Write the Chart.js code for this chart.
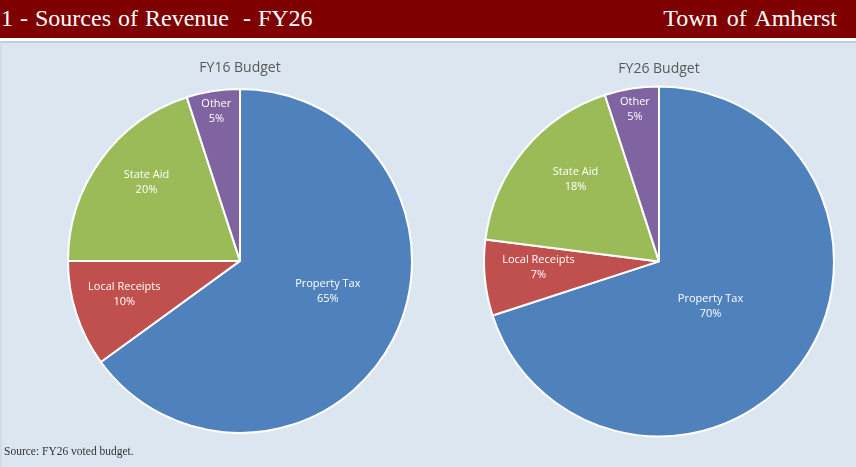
<!DOCTYPE html>
<html>
<head>
<meta charset="utf-8">
<script src="https://cdn.jsdelivr.net/npm/chart.js@4/dist/chart.umd.min.js"></script>
<style>
	html, body { margin: 0; padding: 0; }
	body { width: 856px; height: 467px; position: relative; overflow: hidden; background: #ffffff; }
	#header {
		position: absolute; left: 0; top: 0; width: 856px; height: 38px;
		background: #7f0000; color: #ffffff;
		font-family: "Liberation Serif", "DejaVu Serif", serif; font-size: 24px;
	}
	#header .left { position: absolute; left: 1px; top: 5px; white-space: pre; word-spacing: 1px; }
	#header .right { position: absolute; right: 19px; top: 5px; word-spacing: 3px; }
	#panel {
		position: absolute; left: 0; top: 41px; width: 854px; height: 426px;
		background: #dce6f0; border-top: 2px solid #bccde0; border-left: 2px solid #cfdbe8;
	}
	.pie { position: absolute; top: 0; width: 428px; height: 419px; }
	#source {
		position: absolute; left: 4px; top: 445px;
		font-family: "Liberation Serif", "DejaVu Serif", serif; font-size: 11.5px; color: #333333;
	}
</style>
</head>
<body>
<div id="header"><span class="left">1 - Sources of Revenue  - FY26</span><span class="right">Town of Amherst</span></div>
<div id="panel">
	<div class="pie" style="left:-2px"><canvas id="chart16"></canvas></div>
	<div class="pie" style="left:426px"><canvas id="chart26"></canvas></div>
</div>
<div id="source">Source: FY26 voted budget.</div>
<script>
// DATA
const categories = ["Property Tax", "Local Receipts", "State Aid", "Other"];
const fy16_values = [65, 10, 20, 5];
const fy26_values = [70, 7, 18, 5];
const slice_colors = ["#4f81bd", "#c0504d", "#9bbb59", "#8064a2"];

// label placement: fraction of the radius, and a turn (degrees) off the slice middle
const fy16_label_radius = [0.54, 0.70, 0.71, 0.88];
const fy16_label_turn = [-8, 2, 4, 0];
const fy26_label_radius = [0.39, 0.69, 0.67, 0.88];
const fy26_label_turn = [5, 2.5, 5, 0];

const label_font = '11px "Open Sans", "Noto Sans", sans-serif';

const slice_labels = {
	id: "slice_labels",
	afterDatasetsDraw(chart, args, opts) {
		const ctx = chart.ctx;
		const values = chart.data.datasets[0].data;
		const arcs = chart.getDatasetMeta(0).data;
		ctx.save();
		ctx.font = label_font;
		ctx.fillStyle = "#ffffff";
		ctx.textAlign = "center";
		ctx.textBaseline = "middle";
		arcs.forEach((arc, i) => {
			const p = arc.getProps(["x", "y", "startAngle", "endAngle", "outerRadius"], true);
			const mid = (p.startAngle + p.endAngle) / 2 + opts.turn[i] * Math.PI / 180;
			const r = p.outerRadius * opts.radius[i];
			const x = p.x + Math.cos(mid) * r;
			const y = p.y + Math.sin(mid) * r;
			ctx.fillText(chart.data.labels[i], x, y - 7.5);
			ctx.fillText(values[i] + "%", x, y + 7.5);
		});
		ctx.restore();
	}
};

function make_pie(id, title, values, label_radius, label_turn, padding, title_padding) {
	return new Chart(document.getElementById(id), {
		type: "pie",
		data: {
			labels: categories,
			datasets: [{
				data: values,
				backgroundColor: slice_colors,
				borderColor: "#ffffff",
				borderWidth: 2
			}]
		},
		options: {
			responsive: true,
			maintainAspectRatio: false,
			animation: false,
			layout: { padding: padding },
			plugins: {
				legend: { display: false },
				tooltip: { enabled: false },
				title: {
					display: true,
					text: title,
					color: "#595959",
					font: { family: '"Open Sans", "Noto Sans", sans-serif', size: 14, weight: "normal", lineHeight: 1.2 },
					padding: title_padding
				},
				slice_labels: { radius: label_radius, turn: label_turn }
			}
		},
		plugins: [slice_labels]
	});
}

make_pie("chart16", "FY16 Budget", fy16_values, fy16_label_radius, fy16_label_turn,
	{ left: 67, right: 15, top: 0, bottom: 27 }, { top: 17, bottom: 10 });
make_pie("chart26", "FY26 Budget", fy26_values, fy26_label_radius, fy26_label_turn,
	{ left: 55, right: 21, top: 0, bottom: 24 }, { top: 18, bottom: 7 });
</script>
</body>
</html>
